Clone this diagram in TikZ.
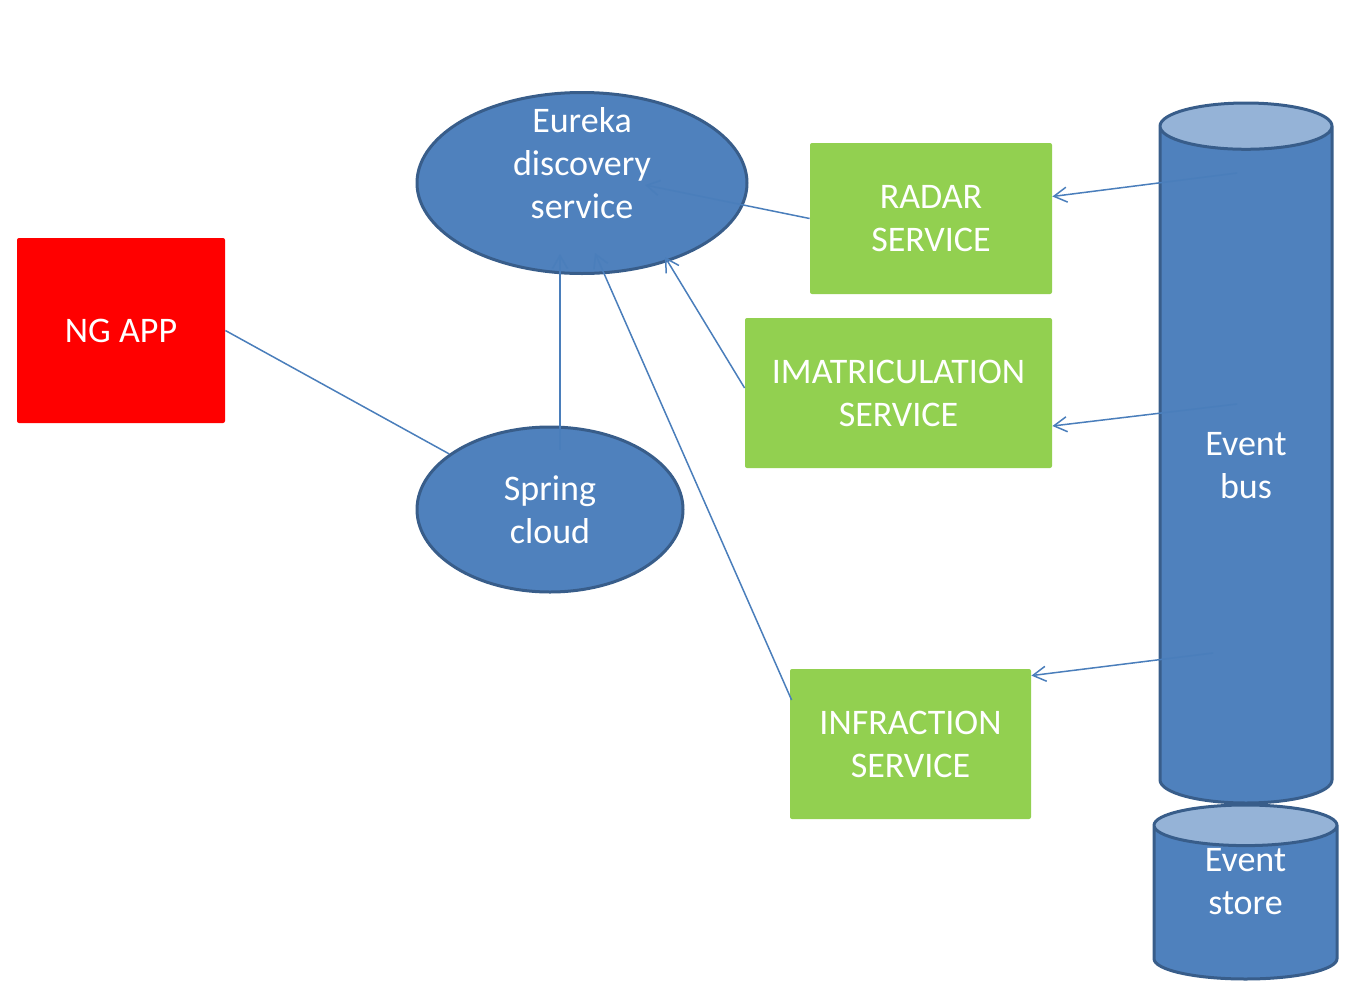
\documentclass[tikz,border=0pt]{standalone}
\usepackage{fontspec}
\setmainfont{Carlito}
\usetikzlibrary{shapes.geometric,arrows.meta}

\definecolor{nodeblue}{HTML}{4F81BD}
\definecolor{edgeblue}{HTML}{385D8A}
\definecolor{capblue}{HTML}{95B3D7}
\definecolor{svcgreen}{HTML}{92D050}
\definecolor{linkblue}{HTML}{4A7EBB}

\tikzset{
  lbl/.style={text=white, align=center, font=\fontsize{18}{21.5}\selectfont},
  svc/.style={lbl, rectangle, rounded corners=1pt, fill=svcgreen, inner sep=0pt},
  disc/.style={ellipse, draw=edgeblue, line width=1.5pt, fill=nodeblue, inner sep=0pt},
  store/.style={lbl, cylinder, shape border rotate=90, draw=edgeblue, line width=1.5pt,
    cylinder uses custom fill, cylinder body fill=nodeblue, cylinder end fill=capblue, inner sep=0pt},
  link/.style={draw=linkblue, line width=0.75pt},
  linkto/.style={link, -{Straight Barb[length=6.5pt,width=7.5pt]}}
}

\begin{document}
\begin{tikzpicture}[x=0.5pt, y=-0.5pt]
  \useasboundingbox (0,0) rectangle (1372,1007);
  % left side
  \node[lbl, rectangle, rounded corners=1pt, fill=red, minimum width=104pt, minimum height=92.5pt] (ngapp) at (121,330.5) {NG APP};
  \node[disc, minimum width=165pt, minimum height=90.5pt] (eureka) at (582,183) {};
  \node[lbl] (eurekatxt) at (582,163) {Eureka\\discovery\\service};
  \node[disc, lbl, minimum width=133pt, minimum height=82.5pt] (spring) at (550,509.5) {Spring\\cloud};
  % services
  \node[svc, minimum width=121pt, minimum height=75.5pt] (radar) at (931,218.5) {RADAR\\SERVICE};
  \node[svc, minimum width=153.5pt, minimum height=75pt] (imat) at (898.5,393) {IMATRICULATION\\SERVICE};
  \node[svc, minimum width=120.5pt, minimum height=75pt] (infraction) at (910.5,744) {INFRACTION\\SERVICE};
  % storage
  \node[store, minimum width=86pt, minimum height=350pt, aspect=0.57, anchor=shape center] (bus) at (1246,453) {Event\\bus};
  \node[store, minimum width=91.5pt, minimum height=87pt, aspect=0.5, anchor=shape center] (evstore) at (1245.5,892) {\phantom{Event}\\\phantom{store}};
  \node[lbl] (evstoretxt) at (1245.5,882) {Event\\store};

  \draw[link] (ngapp.east) -- (spring);
  \draw[linkto] ([xshift=5pt,yshift=-12pt]spring.north) -- ([xshift=-11pt,yshift=10.5pt]eureka.south);
  \draw[linkto] ([xshift=1pt,yshift=22pt]infraction.west) -- ([xshift=6.5pt,yshift=11pt]eureka.south);
  \draw[linkto] ([yshift=2.5pt]imat.west) -- ([xshift=41.5pt,yshift=-37pt]eureka.center);
  \draw[linkto] (radar.west) -- ([xshift=31.5pt,yshift=-1pt]eureka.center);
  \draw[linkto] ([xshift=-4.5pt,yshift=140pt]bus.shape center) -- ([yshift=11pt]radar.east);
  \draw[linkto] ([xshift=-4.5pt,yshift=24.5pt]bus.shape center) -- ([yshift=-16.5pt]imat.east);
  \draw[linkto] ([xshift=-16.5pt,yshift=-100pt]bus.shape center) -- ([yshift=-3.5pt]infraction.north east);
\end{tikzpicture}
\end{document}
